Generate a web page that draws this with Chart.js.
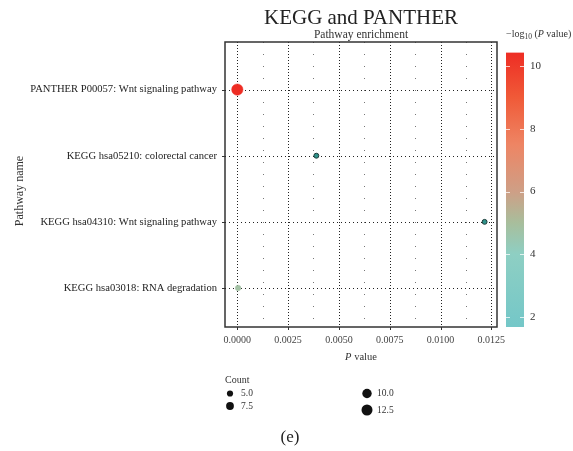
<!DOCTYPE html>
<html><head><meta charset="utf-8">
<script src="https://cdn.jsdelivr.net/npm/chart.js@4"></script>
<style>
html,body{margin:0;padding:0;background:#fff;}
#wrap{position:relative;width:573px;height:451px;overflow:hidden;}
canvas{position:absolute;}
</style></head><body>
<div id="wrap">
<canvas id="main" width="573" height="451" style="left:0;top:0;width:573px;height:451px"></canvas>
<canvas id="cb" width="83" height="300" style="left:490px;top:40px;width:83px;height:300px"></canvas>
</div>
<script>
// ---- data ----
const pathways = ['KEGG hsa03018: RNA degradation','KEGG hsa04310: Wnt signaling pathway','KEGG hsa05210: colorectal cancer','PANTHER P00057: Wnt signaling pathway'];
const pValues = [0.00004, 0.01217, 0.00389, 0.0000000001];
const negLog10P = [4.8, 1.67, 2.4, 10.44];
const counts = [4, 3, 3, 13];
const xTicks = [0, 0.0025, 0.005, 0.0075, 0.01, 0.0125];
const xMinorTicks = [0.00125, 0.00375, 0.00625, 0.00875, 0.01125];
const cbTicks = [2, 4, 6, 8, 10];
const cbRange = [1.67, 10.44];
const legendCounts = [5.0, 7.5, 10.0, 12.5];

// ---- styles ----
const SERIF = '"Liberation Serif", "DejaVu Serif", serif';
const colorStops = [[1.67,[116,199,200]],[4,[142,207,195]],[5,[168,190,156]],[6,[206,159,134]],[7.5,[238,133,100]],[9,[240,90,56]],[10.44,[238,45,36]]];
function colorFor(v){
  if(v<=colorStops[0][0]) return 'rgb('+colorStops[0][1].join(',')+')';
  for(let i=1;i<colorStops.length;i++){
    if(v<=colorStops[i][0]){
      const a=colorStops[i-1],b=colorStops[i];const t=(v-a[0])/(b[0]-a[0]);
      return 'rgb('+a[1].map((c,k)=>Math.round(c+(b[1][k]-c)*t)).join(',')+')';
    }
  }
  return 'rgb('+colorStops[colorStops.length-1][1].join(',')+')';
}
function radiusFor(c){ return 0.32*c + 1.5; }

const points = pathways.map((p,i)=>({x:pValues[i], y:i+1}));

const decor = {
  id:'decor',
  beforeDatasetsDraw(chart){
    const ctx=chart.ctx, xs=chart.scales.x, ys=chart.scales.y, a=chart.chartArea;
    ctx.save();
    ctx.lineWidth=1;
    ctx.strokeStyle='#777'; ctx.setLineDash([1,11]);
    xMinorTicks.forEach(v=>{const px=Math.round(xs.getPixelForValue(v))+0.5;ctx.beginPath();ctx.moveTo(px,a.top);ctx.lineTo(px,a.bottom);ctx.stroke();});
    ctx.strokeStyle='#222'; ctx.setLineDash([1,2]);
    xTicks.forEach(v=>{const px=Math.round(xs.getPixelForValue(v))+0.5;ctx.beginPath();ctx.moveTo(px,a.top);ctx.lineTo(px,a.bottom);ctx.stroke();});
    ctx.setLineDash([1,3]);
    pathways.forEach((p,i)=>{const py=Math.round(ys.getPixelForValue(i+1))+0.5;ctx.beginPath();ctx.moveTo(a.left,py);ctx.lineTo(a.right,py);ctx.stroke();});
    ctx.setLineDash([]);
    ctx.strokeStyle='#333'; ctx.lineWidth=1.5;
    ctx.strokeRect(a.left,a.top,a.right-a.left,a.bottom-a.top);
    ctx.lineWidth=1; ctx.strokeStyle='#333';
    xTicks.forEach(v=>{const px=Math.round(xs.getPixelForValue(v))+0.5;ctx.beginPath();ctx.moveTo(px,a.bottom);ctx.lineTo(px,a.bottom+3);ctx.stroke();});
    pathways.forEach((p,i)=>{const py=Math.round(ys.getPixelForValue(i+1))+0.5;ctx.beginPath();ctx.moveTo(a.left-3,py);ctx.lineTo(a.left,py);ctx.stroke();});
    ctx.restore();
  },
  afterDraw(chart){
    const ctx=chart.ctx, a=chart.chartArea;
    const cx=(a.left+a.right)/2;
    ctx.save();
    ctx.fillStyle='#222';
    ctx.textAlign='center'; ctx.textBaseline='alphabetic';
    ctx.font='21px '+SERIF;
    ctx.fillText('KEGG and PANTHER', cx, 24);
    ctx.font='11.5px '+SERIF; ctx.fillStyle='#333';
    ctx.fillText('Pathway enrichment', cx, 38);
    ctx.textAlign='left';
    let x=506; const by=37;
    ctx.font='10px '+SERIF;
    ctx.fillText('\u2212log', x, by); x+=ctx.measureText('\u2212log').width;
    ctx.font='7.5px '+SERIF; ctx.fillText('10', x, by+2); x+=ctx.measureText('10').width;
    ctx.font='10px '+SERIF; ctx.fillText(' (', x, by); x+=ctx.measureText(' (').width;
    ctx.font='italic 10px '+SERIF; ctx.fillText('P', x, by); x+=ctx.measureText('P').width;
    ctx.font='10px '+SERIF; ctx.fillText(' value)', x, by);
    ctx.font='italic 10.5px '+SERIF;
    const w1=ctx.measureText('P').width;
    ctx.font='10.5px '+SERIF;
    const w2=ctx.measureText(' value').width;
    let sx=cx-(w1+w2)/2;
    ctx.font='italic 10.5px '+SERIF; ctx.fillText('P', sx, 360);
    ctx.font='10.5px '+SERIF; ctx.fillText(' value', sx+w1, 360);
    ctx.save(); ctx.translate(23,191); ctx.rotate(-Math.PI/2);
    ctx.textAlign='center'; ctx.font='12px '+SERIF; ctx.fillText('Pathway name',0,0); ctx.restore();
    ctx.textAlign='left'; ctx.font='10px '+SERIF; ctx.fillStyle='#333';
    ctx.fillText('Count', 225, 383);
    const pos=[[230,393.5,241],[230,406,241],[367,393.5,377],[367,410,377]];
    legendCounts.forEach((c,i)=>{
      const [px,py,tx]=pos[i];
      ctx.fillStyle='#111'; ctx.beginPath(); ctx.arc(px,py,radiusFor(c),0,Math.PI*2); ctx.fill();
      ctx.fillStyle='#333'; ctx.textBaseline='middle'; ctx.font='9.5px '+SERIF;
      ctx.fillText(c.toFixed(1), tx, py);
    });
    ctx.textBaseline='alphabetic'; ctx.textAlign='center'; ctx.fillStyle='#222';
    ctx.font='17px '+SERIF;
    ctx.fillText('(e)', 290, 442);
    ctx.restore();
  }
};

new Chart(document.getElementById('main'), {
  type:'scatter',
  data:{datasets:[{
    data:points,
    backgroundColor:negLog10P.map(v=>v<3?'#2f938b':colorFor(v)),
    borderColor:negLog10P.map(v=>v<3?'#173936':colorFor(v)),
    borderWidth:negLog10P.map(v=>v<3?1:0.5),
    pointRadius:counts.map(c=>radiusFor(c)),
    pointHoverRadius:counts.map(c=>radiusFor(c))
  }]},
  options:{
    responsive:false, animation:false, devicePixelRatio:1,
    layout:{padding:{left:0,top:42,right:76,bottom:0}},
    plugins:{legend:{display:false},tooltip:{enabled:false},title:{display:false}},
    scales:{
      x:{type:'linear', min:-0.000605, max:0.01278,
        afterBuildTicks(s){s.ticks=xTicks.map(v=>({value:v}));},
        afterFit(s){s.height=124;},
        grid:{display:false,drawTicks:false}, border:{display:false},
        ticks:{padding:7, color:'#444', font:{family:SERIF,size:10}, maxRotation:0, autoSkip:false,
          callback:(v)=>Number(v).toFixed(4)}},
      y:{type:'linear', min:0.41, max:4.72,
        afterBuildTicks(s){s.ticks=pathways.map((p,i)=>({value:i+1}));},
        afterFit(s){s.width=225;},
        grid:{display:false,drawTicks:false}, border:{display:false},
        ticks:{padding:8, color:'#222', font:{family:SERIF,size:10.6}, autoSkip:false,
          callback:(v)=>pathways[Math.round(v)-1]||''}}
    }
  },
  plugins:[decor]
});

const cbTicksPlugin = {
  id:'cbTicks',
  afterDatasetsDraw(chart){
    const ctx=chart.ctx, ys=chart.scales.y, a=chart.chartArea;
    ctx.save(); ctx.strokeStyle='rgba(255,255,255,0.75)'; ctx.lineWidth=1;
    cbTicks.forEach(v=>{const py=Math.round(ys.getPixelForValue(v))+0.5;
      ctx.beginPath();ctx.moveTo(a.left,py);ctx.lineTo(a.left+4,py);ctx.moveTo(a.right-4,py);ctx.lineTo(a.right,py);ctx.stroke();});
    ctx.restore();
  }
};
new Chart(document.getElementById('cb'), {
  type:'bar',
  data:{labels:[''], datasets:[{
    data:[cbRange],
    barPercentage:1, categoryPercentage:1, borderWidth:0,
    backgroundColor:(c)=>{
      const ch=c.chart, a=ch.chartArea; if(!a) return '#ccc';
      const ys=ch.scales.y;
      const g=ch.ctx.createLinearGradient(0,ys.getPixelForValue(cbRange[0]),0,ys.getPixelForValue(cbRange[1]));
      colorStops.forEach(s=>{g.addColorStop((s[0]-cbRange[0])/(cbRange[1]-cbRange[0]),'rgb('+s[1].join(',')+')');});
      return g;
    }
  }]},
  options:{
    responsive:false, animation:false, devicePixelRatio:1,
    layout:{padding:{left:16,top:9,bottom:13,right:0}},
    plugins:{legend:{display:false},tooltip:{enabled:false}},
    scales:{
      x:{display:false},
      y:{position:'right', min:cbRange[0], max:cbRange[1],
        afterBuildTicks(s){s.ticks=cbTicks.map(v=>({value:v}));},
        afterFit(s){s.width=49;},
        grid:{display:false,drawTicks:false}, border:{display:false},
        ticks:{padding:6, color:'#333', font:{family:SERIF,size:11}}}
    }
  },
  plugins:[cbTicksPlugin]
});
</script>
</body></html>
